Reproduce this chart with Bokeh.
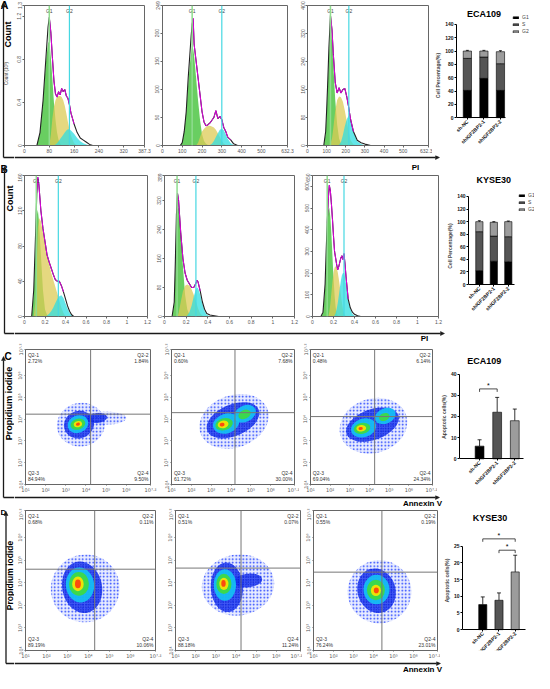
import math
from bokeh.plotting import figure
from bokeh.layouts import row, column
from bokeh.models import (Range1d, FixedTicker, Span, Whisker, TeeHead, ColumnDataSource,
                          Legend, LegendItem, Arrow, NormalHead)
from bokeh.core.properties import value
from bokeh.embed import file_html
from bokeh.resources import INLINE

FONT = "Liberation Sans"
SUP = "DejaVu Sans"
DK = "#1a1a1a"

# ---------------- cell-cycle histograms (PI vs count) ----------------
A1_x = [40, 50, 60, 70, 76, 80, 85, 90, 95, 100, 105, 110, 115, 120, 125, 130, 135, 140, 145, 150, 160, 170, 180, 190, 200, 210, 220]
A1_count = [0.0, 0.12, 0.42, 0.85, 1.1, 1.19, 1.05, 0.82, 0.6, 0.48, 0.45, 0.5, 0.47, 0.53, 0.5, 0.52, 0.46, 0.44, 0.38, 0.3, 0.2, 0.12, 0.07, 0.05, 0.03, 0.01, 0.0]
A1_g1 = [0.0, 0.12, 0.42, 0.8, 0.95, 0.97, 0.82, 0.62, 0.4, 0.24, 0.12, 0.05, 0.02, 0, 0, 0, 0, 0, 0, 0, 0, 0, 0, 0, 0, 0, 0]
A1_s = [0, 0, 0, 0, 0, 0, 0.1, 0.25, 0.36, 0.42, 0.45, 0.46, 0.46, 0.45, 0.42, 0.37, 0.3, 0.22, 0.15, 0.09, 0.02, 0, 0, 0, 0, 0, 0]
A1_g2 = [0, 0, 0, 0, 0, 0, 0, 0, 0, 0.01, 0.02, 0.04, 0.06, 0.08, 0.1, 0.12, 0.14, 0.15, 0.15, 0.14, 0.11, 0.07, 0.04, 0.02, 0.01, 0, 0]
A1_gates = [80, 145]

A2_x = [90, 100, 110, 120, 130, 140, 145, 150, 155, 160, 170, 180, 190, 200, 210, 220, 230, 240, 250, 260, 270, 280, 290, 300, 310, 320, 330, 345, 360, 380]
A2_count = [0, 5, 25, 60, 120, 170, 195, 215, 226, 180, 150, 120, 90, 60, 42, 35, 37, 40, 45, 50, 62, 48, 52, 46, 32, 25, 15, 10, 3, 0]
A2_g1 = [0, 5, 25, 60, 110, 150, 165, 175, 172, 160, 120, 80, 45, 20, 8, 3, 1, 0, 0, 0, 0, 0, 0, 0, 0, 0, 0, 0, 0, 0]
A2_s = [0, 0, 0, 0, 0, 0, 0, 0, 0, 0, 0, 5, 15, 25, 30, 33, 35, 35, 34, 32, 28, 22, 15, 8, 3, 1, 0, 0, 0, 0]
A2_g2 = [0, 0, 0, 0, 0, 0, 0, 0, 0, 0, 0, 0, 0, 0, 0, 0, 0, 1, 3, 8, 15, 22, 28, 30, 27, 20, 12, 4, 1, 0]
A2_gates = [150, 300]

A3_x = [85, 95, 100, 105, 112, 120, 128, 135, 145, 155, 165, 175, 185, 195, 205, 215, 225, 240, 260, 280, 300, 330]
A3_count = [0, 40, 100, 170, 280, 372, 330, 260, 180, 150, 165, 150, 160, 163, 140, 110, 75, 40, 15, 8, 4, 0]
A3_g1 = [0, 35, 90, 160, 260, 330, 300, 230, 130, 60, 20, 5, 1, 0, 0, 0, 0, 0, 0, 0, 0, 0]
A3_s = [0, 0, 0, 0, 0, 5, 20, 50, 100, 130, 140, 138, 125, 100, 70, 40, 15, 3, 0, 0, 0, 0]
A3_g2 = [0, 0, 0, 0, 0, 0, 0, 0, 0, 0, 2, 10, 30, 55, 75, 85, 75, 40, 12, 4, 1, 0]
A3_gates = [120, 216]

B1_x = [0.07, 0.09, 0.11, 0.12, 0.13, 0.14, 0.16, 0.18, 0.2, 0.22, 0.24, 0.26, 0.28, 0.3, 0.32, 0.34, 0.36, 0.38, 0.4, 0.42, 0.44, 0.46, 0.48]
B1_count = [0, 30, 100, 140, 158, 150, 120, 100, 85, 70, 62, 55, 48, 42, 40, 40, 35, 28, 20, 12, 6, 2, 0]
B1_g1 = [0, 25, 90, 115, 121, 110, 70, 30, 8, 2, 0, 0, 0, 0, 0, 0, 0, 0, 0, 0, 0, 0, 0]
B1_s = [0, 0, 20, 60, 100, 112, 108, 95, 82, 70, 60, 50, 42, 34, 26, 18, 10, 4, 0, 0, 0, 0, 0]
B1_g2 = [0, 0, 0, 0, 0, 0, 0, 0, 0, 1, 3, 6, 10, 15, 20, 23, 24, 21, 15, 9, 4, 1, 0]
B1_gates = [0.115, 0.33]

B2_x = [0.07, 0.09, 0.1, 0.11, 0.12, 0.13, 0.15, 0.17, 0.19, 0.21, 0.23, 0.25, 0.27, 0.29, 0.3, 0.31, 0.33, 0.35, 0.37, 0.39, 0.42, 0.46, 0.5]
B2_count = [0, 40, 150, 280, 340, 320, 230, 160, 120, 100, 90, 80, 80, 92, 100, 95, 70, 40, 20, 8, 4, 2, 0]
B2_g1 = [0, 35, 130, 240, 295, 300, 230, 140, 60, 20, 5, 1, 0, 0, 0, 0, 0, 0, 0, 0, 0, 0, 0]
B2_s = [0, 0, 0, 0, 0, 10, 40, 70, 85, 88, 85, 75, 60, 42, 32, 22, 8, 2, 0, 0, 0, 0, 0]
B2_g2 = [0, 0, 0, 0, 0, 0, 0, 0, 0, 3, 12, 30, 55, 75, 80, 78, 60, 35, 15, 5, 1, 0, 0]
B2_gates = [0.116, 0.29]

B3_x = [0.08, 0.1, 0.12, 0.13, 0.14, 0.15, 0.16, 0.17, 0.18, 0.19, 0.2, 0.21, 0.22, 0.23, 0.24, 0.25, 0.26, 0.27, 0.28, 0.29, 0.3, 0.31, 0.32, 0.33, 0.34, 0.36, 0.38, 0.4, 0.43, 0.46]
B3_count = [0, 20, 150, 300, 430, 540, 605, 580, 520, 450, 370, 300, 270, 240, 215, 230, 250, 270, 280, 262, 290, 240, 180, 130, 80, 40, 20, 10, 3, 0]
B3_g1 = [0, 15, 130, 270, 400, 490, 500, 460, 380, 280, 180, 100, 45, 15, 5, 1, 0, 0, 0, 0, 0, 0, 0, 0, 0, 0, 0, 0, 0, 0]
B3_s = [0, 0, 0, 0, 0, 0, 20, 60, 110, 160, 200, 225, 232, 225, 205, 175, 140, 100, 65, 35, 15, 5, 1, 0, 0, 0, 0, 0, 0, 0]
B3_g2 = [0, 0, 0, 0, 0, 0, 0, 0, 0, 0, 0, 5, 15, 35, 60, 95, 130, 165, 190, 200, 200, 180, 150, 115, 80, 35, 12, 4, 1, 0]
B3_gates = [0.14, 0.30]

# axis ticks of the histograms
A1_xticks = [0, 80, 160, 240, 320, 387.3]
A1_xlabels = ["0", "80", "160", "240", "320", "387.3"]
A1_yticks = [0, 0.4, 0.8, 1.2, 1.3]
A1_ylabels = ["0", "0.4", "0.8", "1.2", "1.3"]
A23_xticks = [0, 100, 200, 300, 400, 500, 632.3]
A23_xlabels = ["0", "100", "200", "300", "400", "500", "632.3"]
A2_yticks = [0, 50, 100, 150, 200, 249]
A3_yticks = [0, 80, 160, 240, 320, 400]
B_xticks = [0, 0.2, 0.4, 0.6, 0.8, 1, 1.2]
B_xlabels = ["0", "0.2", "0.4", "0.6", "0.8", "1", "1.2"]
B1_yticks = [0, 40, 80, 120, 160]
B2_yticks = [0, 80, 160, 240, 320, 389]
B3_yticks = [0, 100, 200, 300, 400, 500, 600, 650]

# ---------------- Annexin V / PI density plots (log10 units) ----------------
LOG_TICKS = [1, 2, 3, 4, 5, 6, 7.2]
LOG_LABELS = ["10¹", "10²", "10³", "10⁴", "10⁵", "10⁶", "10⁷·²"]
QUAD_NAMES = ["Q2-1", "Q2-2", "Q2-3", "Q2-4"]
C1_q = ["2.72%", "1.84%", "84.94%", "9.50%"]
C2_q = ["0.60%", "7.68%", "61.72%", "30.00%"]
C3_q = ["0.48%", "6.14%", "69.04%", "24.34%"]
D1_q = ["0.68%", "0.11%", "89.19%", "10.06%"]
D2_q = ["0.51%", "0.07%", "88.18%", "11.24%"]
D3_q = ["0.55%", "0.19%", "76.24%", "23.01%"]
C1_gate = [4.23, 4.23]
C2_gate = [4.2, 4.3]
C3_gate = [4.26, 4.12]
D1_gate = [4.3, 4.6]
D2_gate = [4.25, 4.65]
D3_gate = [4.42, 4.47]
# cloud density contours: (x, y, width, height, angle, density level 0..5)
C1_cloud = [(3.75, 3.75, 2.4, 2.0, 0.2, 0), (5.0, 4.05, 2.0, 0.6, 0.0, 0),
            (3.65, 3.75, 1.5, 1.25, 0.35, 1), (4.55, 4.05, 1.0, 0.45, 0.1, 1),
            (3.6, 3.77, 1.05, 0.8, 0.35, 2), (3.6, 3.77, 0.75, 0.5, 0.3, 3),
            (3.6, 3.77, 0.42, 0.28, 0.2, 4), (3.6, 3.77, 0.2, 0.14, 0.2, 5)]
C2_cloud = [(4.15, 3.9, 3.6, 2.4, 0.35, 0), (4.1, 3.95, 2.8, 1.45, 0.4, 1),
            (3.75, 3.8, 1.35, 0.9, 0.3, 2), (4.7, 4.25, 1.15, 0.75, 0.45, 2),
            (3.65, 3.77, 0.9, 0.55, 0.25, 3), (4.68, 4.22, 0.65, 0.4, 0.45, 3),
            (3.6, 3.76, 0.55, 0.35, 0.2, 4), (3.55, 3.75, 0.25, 0.17, 0.2, 5)]
C3_cloud = [(4.2, 3.7, 3.5, 2.5, 0.3, 0), (4.15, 3.75, 2.8, 1.4, 0.35, 1),
            (3.7, 3.6, 1.3, 0.85, 0.3, 2), (4.8, 4.15, 1.1, 0.7, 0.4, 2),
            (3.62, 3.58, 0.85, 0.5, 0.2, 3), (4.75, 4.1, 0.55, 0.35, 0.4, 3),
            (3.58, 3.58, 0.5, 0.3, 0.1, 4), (3.55, 3.57, 0.22, 0.14, 0.1, 5)]
D1_cloud = [(3.85, 3.75, 3.3, 3.0, 0.3, 0), (3.7, 3.8, 1.9, 2.3, 0.2, 1),
            (3.6, 3.9, 1.35, 1.55, 0.1, 2), (3.55, 3.95, 0.95, 1.05, 0.0, 3),
            (3.5, 3.95, 0.55, 0.65, 0.0, 4), (3.5, 3.95, 0.28, 0.38, 0.0, 5)]
D2_cloud = [(4.1, 3.9, 3.6, 2.7, 0.15, 0), (3.55, 3.8, 1.6, 2.2, 0.05, 1),
            (4.6, 4.1, 1.4, 0.6, 0.1, 1), (3.45, 3.9, 1.1, 1.4, 0.0, 2),
            (3.4, 3.95, 0.75, 0.9, 0.0, 3), (3.4, 3.95, 0.45, 0.55, 0.0, 4),
            (3.38, 3.97, 0.22, 0.3, 0.0, 5)]
D3_cloud = [(4.3, 3.6, 3.2, 2.8, 0.2, 0), (4.15, 3.65, 1.9, 2.0, 0.3, 1),
            (4.15, 3.7, 1.3, 1.3, 0.0, 2), (4.12, 3.68, 0.9, 0.9, 0.0, 3),
            (4.12, 3.66, 0.5, 0.5, 0.0, 4), (4.14, 3.66, 0.25, 0.25, 0.0, 5)]

# ---------------- bar charts ----------------
CATS = ["sh-NC", "shIGF2BP2-1", "shIGF2BP2-2"]
ECA_G1 = [41, 59, 41]
ECA_S = [48, 32, 40]
ECA_G2 = [11, 9, 18]
ECA_ERR = [[1.5, 1.5, 1.5], [1.5, 1.5, 2.5], [1.0, 1.0, 1.5]]
KYSE_G1 = [22, 37, 36]
KYSE_S = [62, 40, 40]
KYSE_G2 = [16, 22, 24]
KYSE_ERR = [[1.5, 1.5, 1.5], [1.5, 1.5, 1.5], [1.5, 1.0, 1.0]]
APOP_ECA = [6, 22, 18]
APOP_ECA_ERR = [3, 7, 5.5]
APOP_KYSE = [7.5, 8.8, 17.3]
APOP_KYSE_ERR = [2.3, 2.2, 5.0]
SIG_ECA = [(0, 1, 33)]
SIG_KYSE = [(0, 2, 27.2), (1, 2, 23.8)]

HIST_GREEN = "#44c23a"
HIST_YELLOW = "#dccb55"
HIST_CYAN = "#2fdde0"
CLOUD_COL = ["#2040ff", "#1733f2", "#14c4f4", "#3fdc3c", "#ffe400", "#ff3a10"]
BAR_COL = ["#000000", "#555555", "#9c9c9c"]


def frame_fig(w, h, bl, br, bt, bb, xr, yr):
    p = figure(width=w, height=h, x_range=Range1d(*xr), y_range=Range1d(*yr),
               output_backend="svg", toolbar_location=None, title=None,
               min_border_left=bl, min_border_right=br, min_border_top=bt, min_border_bottom=bb)
    p.grid.visible = False
    p.outline_line_color = "#666666"
    p.background_fill_color = "white"
    return p


def style_ax(ax, size="5px", font=FONT, color="#555555"):
    ax.major_label_text_font_size = size
    ax.major_label_text_font = font
    ax.major_label_text_color = color
    ax.axis_line_color = "#666666"
    ax.major_tick_line_color = "#666666"
    ax.major_tick_out = 2
    ax.major_tick_in = 0
    ax.minor_tick_line_color = None
    ax.major_label_standoff = 1


def set_ticks(ax, ticks, labels):
    ax.ticker = FixedTicker(ticks=ticks)
    ax.major_label_overrides = {t: l for t, l in zip(ticks, labels)}


def hist_fig(xs, cnt, g1, s, g2, gates, xt, xl, yt, w, h, bl, br, bt, bb, yl=None):
    p = frame_fig(w, h, bl, br, bt, bb, (0, xt[-1]), (0, yt[-1]))
    p.varea(x=xs, y1=0, y2=g1, fill_color=HIST_GREEN, fill_alpha=0.8)
    p.varea(x=xs, y1=0, y2=s, fill_color=HIST_YELLOW, fill_alpha=0.75)
    p.varea(x=xs, y1=0, y2=g2, fill_color=HIST_CYAN, fill_alpha=0.75)
    p.line(xs, cnt, line_color="#222222", line_width=1.1)
    lo, hi = gates[0], gates[1] + 0.3 * (gates[1] - gates[0])
    sel = [i for i, x in enumerate(xs) if lo <= x <= hi]
    p.line([xs[i] for i in sel], [cnt[i] for i in sel], line_color="#e000e0", line_width=1)
    p.add_layout(Span(location=gates[0], dimension="height", line_color="#8fdc8f", line_width=1.5))
    p.add_layout(Span(location=gates[1], dimension="height", line_color="#45d8e2", line_width=1.2))
    p.text(x=gates, y=[yt[-1] * 0.985] * 2, text=["G1", "G2"], text_font=value(FONT),
           text_font_size="5px", text_align="center", text_baseline="top", text_color="#444444")
    style_ax(p.xaxis[0])
    style_ax(p.yaxis[0])
    p.yaxis.major_label_orientation = "vertical"
    set_ticks(p.xaxis[0], xt, xl)
    set_ticks(p.yaxis[0], yt, yl if yl else [str(t) for t in yt])
    return p


def scatter_fig(cloud, gate, q, w, h, bl, br, bt, bb):
    p = frame_fig(w, h, bl, br, bt, bb, (1, 7.2), (1, 7.2))
    for lvl in range(6):
        items = [c for c in cloud if c[5] == lvl]
        if not items:
            continue
        kw = dict(x=[c[0] for c in items], y=[c[1] for c in items],
                  width=[c[2] for c in items], height=[c[3] for c in items],
                  angle=[c[4] for c in items], line_color=None, fill_color=CLOUD_COL[lvl])
        if lvl == 0:
            p.ellipse(fill_alpha=0.10, hatch_pattern=".", hatch_color="#1a3aff",
                      hatch_scale=3.5, hatch_weight=1, **kw)
        elif lvl == 1:
            p.ellipse(fill_alpha=0.8, hatch_pattern=".", hatch_color="#0010c0",
                      hatch_scale=2.5, hatch_weight=1, **kw)
        else:
            p.ellipse(fill_alpha=0.9, **kw)
    p.add_layout(Span(location=gate[0], dimension="height", line_color="#777777", line_width=1))
    p.add_layout(Span(location=gate[1], dimension="width", line_color="#777777", line_width=1))
    labels = [QUAD_NAMES[i] + "\n" + q[i] for i in range(4)]
    spots = [(1.12, 7.1, "left", "top"), (7.1, 7.1, "right", "top"),
             (1.12, 1.1, "left", "bottom"), (7.1, 1.1, "right", "bottom")]
    for lab, (x, y, al, bl_) in zip(labels, spots):
        p.text(x=[x], y=[y], text=[lab], text_align=al, text_baseline=bl_,
               text_font=value(FONT), text_font_size="5px", text_color="#333333", text_line_height=1.0)
    for ax in (p.xaxis[0], p.yaxis[0]):
        style_ax(ax, size="5px", font=SUP)
        set_ticks(ax, LOG_TICKS, LOG_LABELS)
        ax.major_tick_out = 1
    p.yaxis.major_label_orientation = "vertical"
    return p


def bar_axes(p, yticks, xbound, ylabel):
    for ax in (p.xaxis[0], p.yaxis[0]):
        ax.axis_line_color = "#000000"
        ax.major_tick_line_color = "#000000"
        ax.major_tick_out = 2
        ax.major_tick_in = 0
        ax.minor_tick_line_color = None
        ax.major_label_text_font = FONT
        ax.major_label_text_font_size = "5px"
        ax.major_label_text_font_style = "bold"
        ax.major_label_text_color = "#111111"
        ax.major_label_standoff = 1
    set_ticks(p.xaxis[0], [0, 1, 2], CATS)
    p.xaxis.major_label_orientation = math.pi / 4
    p.xaxis.fixed_location = 0
    p.xaxis.bounds = xbound
    set_ticks(p.yaxis[0], yticks, [str(t) for t in yticks])
    p.yaxis.bounds = (0, yticks[-1])
    p.yaxis.axis_label = ylabel
    p.yaxis.axis_label_text_font = FONT
    p.yaxis.axis_label_text_font_size = "5px"
    p.yaxis.axis_label_text_font_style = "bold"
    p.yaxis.axis_label_standoff = 1
    p.outline_line_color = None


def bar_title(p, text, x, y):
    p.text(x=[x], y=[y], text=[text], text_align="center", text_baseline="middle",
           text_font=value(FONT), text_font_size="9px", text_font_style="bold", text_color="#000000")


def stacked_fig(g1, s, g2, err, title, w, h, bl, br, bt, bb, xr, xbound, yr, title_xy, legend_loc):
    p = frame_fig(w, h, bl, br, bt, bb, xr, yr)
    x = [0, 1, 2]
    t1 = list(g1)
    t2 = [a + b for a, b in zip(t1, s)]
    t3 = [a + b for a, b in zip(t2, g2)]
    r1 = p.vbar(x=x, bottom=0, top=t1, width=0.5, fill_color=BAR_COL[0], line_color="#000000", line_width=0.6)
    r2 = p.vbar(x=x, bottom=t1, top=t2, width=0.5, fill_color=BAR_COL[1], line_color="#000000", line_width=0.6)
    r3 = p.vbar(x=x, bottom=t2, top=t3, width=0.5, fill_color=BAR_COL[2], line_color="#000000", line_width=0.6)
    for tops, e in zip((t1, t2, t3), err):
        src = ColumnDataSource(dict(x=x, lo=[t - d for t, d in zip(tops, e)], hi=[t + d for t, d in zip(tops, e)]))
        p.add_layout(Whisker(source=src, base="x", lower="lo", upper="hi", line_color="#000000", line_width=0.8,
                             upper_head=TeeHead(size=3, line_color="#000000", line_width=0.8),
                             lower_head=TeeHead(size=3, line_color="#000000", line_width=0.8)))
    bar_axes(p, [0, 20, 40, 60, 80, 100, 120, 140], xbound, "Cell Percentage(%)")
    leg = Legend(items=[LegendItem(label="G1", renderers=[r1]), LegendItem(label="S", renderers=[r2]),
                        LegendItem(label="G2", renderers=[r3])],
                 location=legend_loc, label_text_font=FONT, label_text_font_size="5px",
                 label_height=5, glyph_height=3, glyph_width=7, label_standoff=3, spacing=1,
                 padding=0, margin=0, border_line_color=None, background_fill_alpha=0)
    p.add_layout(leg, "center")
    bar_title(p, title, *title_xy)
    return p


def apop_fig(vals, errs, sig, title, yticks, w, h, bl, br, bt, bb, xr, xbound, yr, title_xy):
    p = frame_fig(w, h, bl, br, bt, bb, xr, yr)
    x = [0, 1, 2]
    p.vbar(x=x, top=vals, width=0.5, fill_color=BAR_COL, line_color="#000000", line_width=0.6)
    src = ColumnDataSource(dict(x=x, lo=vals, hi=[v + e for v, e in zip(vals, errs)]))
    p.add_layout(Whisker(source=src, base="x", lower="lo", upper="hi", line_color="#000000", line_width=0.8,
                         upper_head=TeeHead(size=4, line_color="#000000", line_width=0.8), lower_head=None))
    tick = yticks[-1] * 0.035
    p.multi_line(xs=[[a, a, b, b] for a, b, hgt in sig],
                 ys=[[hgt - tick, hgt, hgt, hgt - tick] for a, b, hgt in sig],
                 line_color="#000000", line_width=0.7)
    p.text(x=[(a + b) / 2 for a, b, hgt in sig], y=[hgt for a, b, hgt in sig],
           text=["*"] * len(sig), text_align="center", text_baseline="bottom",
           text_font=value(FONT), text_font_size="7px", text_color="#000000")
    bar_axes(p, yticks, xbound, "Apoptotic cells(%)")
    bar_title(p, title, *title_xy)
    return p


def deco(w, h):
    p = figure(width=w, height=h, x_range=Range1d(0, w), y_range=Range1d(0, h),
               output_backend="svg", toolbar_location=None, title=None, min_border=0,
               x_axis_type=None, y_axis_type=None)
    p.outline_line_color = None
    p.background_fill_color = "white"
    return p


def txt(p, x, y, s, size, bold=True, angle=0.0, align="center", color="#000000"):
    p.text(x=[x], y=[y], text=[s], text_font=value(FONT), text_font_size=size,
           text_font_style="bold" if bold else "normal", angle=angle, text_align=align,
           text_baseline="middle", text_color=color)


def arrow(p, x0, y0, x1, y1):
    p.add_layout(Arrow(end=NormalHead(size=4, fill_color=DK, line_color=DK, line_width=0.5),
                       x_start=x0, y_start=y0, x_end=x1, y_end=y1, line_color=DK, line_width=1.3))


def seg(p, x0, y0, x1, y1):
    p.line([x0, x1], [y0, y1], line_color=DK, line_width=1.3)


V = math.pi / 2
LW = 14  # width of the left decoration column

# ---------------- left decoration column (letters, axis names, arrows) ----------------
left = deco(LW, 673)
arrow(left, 3, 516, 3, 671)
seg(left, 3, 516, LW, 516)
txt(left, 0, 668.5, "A", "11px", align="left")
txt(left, 7.5, 639, "Count", "9px", angle=V)
txt(left, 5.5, 600, "Count (10³)", "4.5px", bold=False, angle=V, color="#444444")
arrow(left, 4, 340, 4, 507)
seg(left, 4, 340, LW, 340)
txt(left, 0, 504.5, "B", "10px", align="left")
txt(left, 9.5, 475, "Count", "9px", angle=V)
arrow(left, 3, 176, 3, 317)
seg(left, 3, 176, LW, 176)
txt(left, 4, 317, "C", "10px", align="left")
txt(left, 8.5, 270, "Propidium iodide", "9px", angle=V)
arrow(left, 5.5, 10, 5.5, 162)
seg(left, 5.5, 10, LW, 10)
txt(left, 0, 161, "D", "8px", align="left")
txt(left, 9.6, 98, "Propidium iodide", "8.5px", angle=V)

# ---------------- row A ----------------
a1 = hist_fig(A1_x, A1_count, A1_g1, A1_s, A1_g2, A1_gates, A1_xticks, A1_xlabels, A1_yticks,
              138, 155, 6, 8, 5, 9, yl=A1_ylabels)
a2 = hist_fig(A2_x, A2_count, A2_g1, A2_s, A2_g2, A2_gates, A23_xticks, A23_xlabels, A2_yticks,
              145, 155, 8, 10, 5, 9)
a3 = hist_fig(A3_x, A3_count, A3_g1, A3_s, A3_g2, A3_gates, A23_xticks, A23_xlabels, A3_yticks,
              135, 155, 7, 4, 5, 9)
ab = stacked_fig(ECA_G1, ECA_S, ECA_G2, ECA_ERR, "ECA109", 102, 155, 23, 0, 5, 9,
                 (-0.657, 4.06), (-0.657, 2.33), (-41.7, 168.3), (1, 155), (56, 111))
sa = deco(520, 18)
arrow(sa, 0, 16, 425, 16)
txt(sa, 401, 6, "PI", "8px")

# ---------------- row B ----------------
b1 = hist_fig(B1_x, B1_count, B1_g1, B1_s, B1_g2, B1_gates, B_xticks, B_xlabels, B1_yticks,
              140, 155, 10, 7, 2, 12)
b2 = hist_fig(B2_x, B2_count, B2_g1, B2_s, B2_g2, B2_gates, B_xticks, B_xlabels, B2_yticks,
              148, 155, 8, 8, 2, 12)
b3 = hist_fig(B3_x, B3_count, B3_g1, B3_s, B3_g2, B3_gates, B_xticks, B_xlabels, B3_yticks,
              142, 155, 8, 6, 2, 12)
bb_ = stacked_fig(KYSE_G1, KYSE_S, KYSE_G2, KYSE_ERR, "KYSE30", 90, 155, 17, 0, 2, 12,
                  (-0.75, 3.81), (-0.75, 2.44), (-50.9, 173.4), (1, 166), (50, 104))
sb = deco(520, 14)
arrow(sb, 0, 9, 430, 9)
txt(sb, 410, 4, "PI", "8px")

# ---------------- row C ----------------
c1 = scatter_fig(C1_cloud, C1_gate, C1_q, 146, 153, 10, 10, 7, 9)
c2 = scatter_fig(C2_cloud, C2_gate, C2_q, 139, 153, 8, 5, 7, 9)
c3 = scatter_fig(C3_cloud, C3_gate, C3_q, 138, 153, 6, 5, 7, 9)
cb = apop_fig(APOP_ECA, APOP_ECA_ERR, SIG_ECA, "ECA109", [0, 10, 20, 30, 40], 97, 153,
              15, 0, 7, 9, (-1.14, 3.12), (-1.14, 2.5), (-12.1, 51.6), (0.27, 46))
sc = deco(520, 13)
arrow(sc, 0, 11, 425, 11)
txt(sc, 408, 5, "Annexin V", "8px")

# ---------------- row D ----------------
d1 = scatter_fig(D1_cloud, D1_gate, D1_q, 150, 153, 11, 9, 2, 10)
d2 = scatter_fig(D2_cloud, D2_gate, D2_q, 138, 153, 8, 2, 2, 10)
d3 = scatter_fig(D3_cloud, D3_gate, D3_q, 138, 153, 6, 3, 2, 10)
db = apop_fig(APOP_KYSE, APOP_KYSE_ERR, SIG_KYSE, "KYSE30", [0, 5, 10, 15, 20, 25], 94, 153,
              14, 0, 2, 10, (-1.25, 3.19), (-1.25, 2.64), (-6.25, 35.7), (0.44, 33.6))
sd = deco(520, 12)
arrow(sd, 0, 10, 426, 10)
txt(sd, 408, 4.5, "Annexin V", "8px")

right = column(
    row(a1, a2, a3, ab), sa,
    row(b1, b2, b3, bb_), sb,
    row(c1, c2, c3, cb), sc,
    row(d1, d2, d3, db), sd,
)
layout = row(left, right)

open("out.html", "w").write(file_html(layout, INLINE))
